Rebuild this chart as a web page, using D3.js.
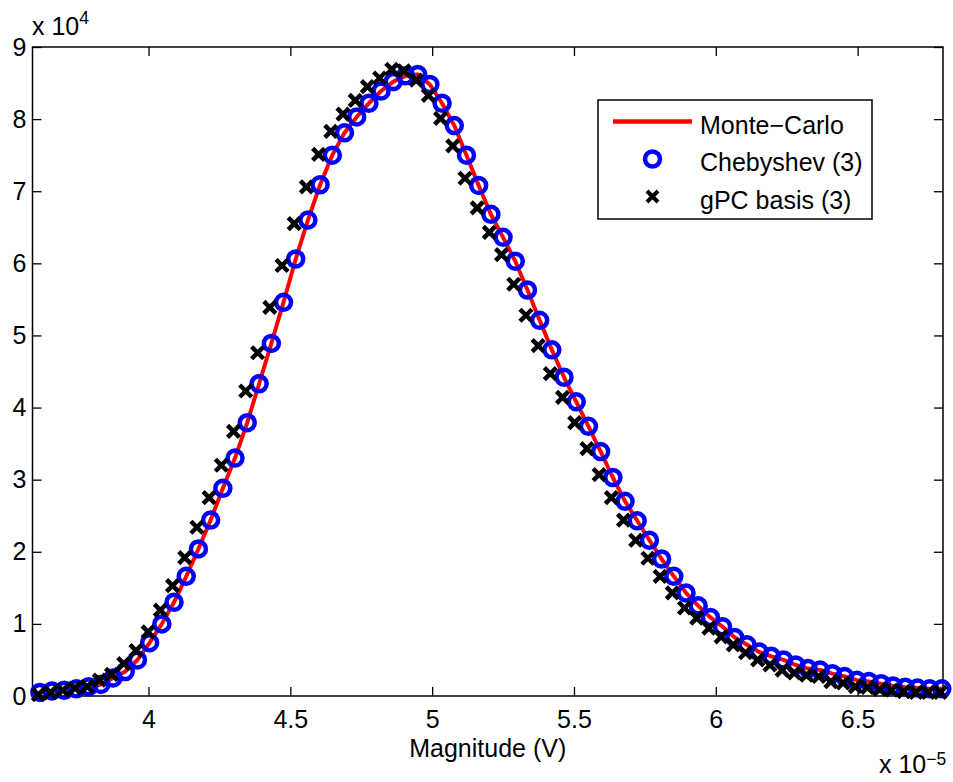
<!DOCTYPE html>
<head>
  <meta charset="utf-8">
  <script src="https://d3js.org/d3.v7.min.js"></script>

  <style>
    body { margin:0; background: white; }

    text {
      font-family: 'Liberation Sans', Arial, Helvetica, sans-serif;
      fill: black;
    }

    .axisLabel, .legendText, .expText {
      font-size: 25px;
    }
  </style>
</head>

<body>
  <script>
    // magnitude of the samples (x 1e-5 V)
    const magnitude = [
      3.617, 3.660, 3.703, 3.746, 3.789, 3.832, 3.875, 3.918, 3.961, 4.004,
      4.047, 4.090, 4.133, 4.176, 4.219, 4.262, 4.305, 4.348, 4.390, 4.433,
      4.476, 4.519, 4.562, 4.605, 4.648, 4.691, 4.734, 4.777, 4.820, 4.863,
      4.906, 4.949, 4.992, 5.035, 5.078, 5.121, 5.164, 5.207, 5.250, 5.293,
      5.336, 5.379, 5.422, 5.465, 5.508, 5.551, 5.594, 5.637, 5.680, 5.723,
      5.766, 5.809, 5.852, 5.895, 5.938, 5.981, 6.024, 6.067, 6.110, 6.153,
      6.196, 6.239, 6.282, 6.325, 6.368, 6.411, 6.454, 6.497, 6.540, 6.583,
      6.625, 6.668, 6.711, 6.754, 6.797
    ];

    // densities (x 1e4)
    const monteCarlo = [
      0.05, 0.07, 0.08, 0.10, 0.13, 0.16, 0.25, 0.34, 0.50, 0.74,
      1.00, 1.30, 1.66, 2.04, 2.44, 2.88, 3.30, 3.79, 4.33, 4.89,
      5.46, 6.06, 6.60, 7.09, 7.50, 7.81, 8.03, 8.22, 8.39, 8.52,
      8.60, 8.62, 8.48, 8.22, 7.91, 7.50, 7.08, 6.68, 6.36, 6.03,
      5.63, 5.21, 4.80, 4.42, 4.08, 3.74, 3.39, 3.03, 2.70, 2.43,
      2.16, 1.90, 1.66, 1.43, 1.25, 1.09, 0.96, 0.81, 0.71, 0.61,
      0.55, 0.50, 0.43, 0.38, 0.36, 0.31, 0.27, 0.22, 0.20, 0.17,
      0.14, 0.12, 0.11, 0.10, 0.10
    ];

    const chebyshev = [
      0.05, 0.07, 0.08, 0.10, 0.13, 0.16, 0.25, 0.34, 0.50, 0.74,
      1.00, 1.30, 1.66, 2.04, 2.44, 2.88, 3.30, 3.79, 4.33, 4.89,
      5.46, 6.06, 6.60, 7.09, 7.50, 7.81, 8.03, 8.22, 8.39, 8.52,
      8.60, 8.62, 8.48, 8.22, 7.91, 7.50, 7.08, 6.68, 6.36, 6.03,
      5.63, 5.21, 4.80, 4.42, 4.08, 3.74, 3.39, 3.03, 2.70, 2.43,
      2.16, 1.90, 1.66, 1.43, 1.25, 1.09, 0.96, 0.81, 0.71, 0.61,
      0.55, 0.50, 0.43, 0.38, 0.36, 0.31, 0.27, 0.22, 0.20, 0.17,
      0.14, 0.12, 0.11, 0.10, 0.10
    ];

    const gpcBasis = [
      0.02, 0.05, 0.08, 0.11, 0.13, 0.22, 0.30, 0.45, 0.63, 0.89,
      1.19, 1.53, 1.92, 2.34, 2.75, 3.20, 3.67, 4.23, 4.76, 5.39,
      5.97, 6.55, 7.06, 7.51, 7.83, 8.07, 8.26, 8.45, 8.57, 8.69,
      8.67, 8.54, 8.33, 8.01, 7.63, 7.18, 6.77, 6.43, 6.12, 5.71,
      5.28, 4.86, 4.47, 4.14, 3.79, 3.43, 3.07, 2.75, 2.44, 2.16,
      1.91, 1.66, 1.43, 1.22, 1.08, 0.94, 0.82, 0.71, 0.60, 0.50,
      0.43, 0.36, 0.32, 0.29, 0.27, 0.20, 0.18, 0.13, 0.12, 0.09,
      0.08, 0.06, 0.05, 0.05, 0.05
    ];

    const xTicks = [4, 4.5, 5, 5.5, 6, 6.5];
    const yTicks = [0, 1, 2, 3, 4, 5, 6, 7, 8, 9];
    const legendLabels = ['Monte\u2212Carlo', 'Chebyshev (3)', 'gPC basis (3)'];

    const width = 953, height = 782;
    const plot = {left: 32.5, right: 943, top: 47, bottom: 696};

    const svg = d3.select('body')
                  .append('svg')
                  .attr('width', width)
                  .attr('height', height);

    // scales
    const x = d3.scaleLinear()
                .domain([3.591, 6.801])
                .range([plot.left, plot.right]);
    const y = d3.scaleLinear()
                .domain([0, 9])
                .range([plot.bottom, plot.top]);

    // axes, ticks point inwards like matlab
    const styleAxis = g => {
      g.select('.domain').remove();
      g.selectAll('.tick line').attr('stroke-width', 1.3);
      g.attr('font-size', 25)
       .attr('font-family', "'Liberation Sans', Arial, Helvetica, sans-serif");
    };

    svg.append('g')
       .attr('transform', `translate(0, ${plot.bottom})`)
       .call(d3.axisBottom(x).tickValues(xTicks).tickSize(-9).tickPadding(14.5).tickFormat(d3.format('')))
       .call(styleAxis);
    svg.append('g')
       .attr('transform', `translate(0, ${plot.top})`)
       .call(d3.axisTop(x).tickValues(xTicks).tickSize(-9).tickFormat(''))
       .call(styleAxis);
    svg.append('g')
       .attr('transform', `translate(${plot.left}, 0)`)
       .call(d3.axisLeft(y).tickValues(yTicks).tickSize(-9).tickPadding(6).tickFormat(d3.format('d')))
       .call(styleAxis);
    svg.append('g')
       .attr('transform', `translate(${plot.right}, 0)`)
       .call(d3.axisRight(y).tickValues(yTicks).tickSize(-9).tickFormat(''))
       .call(styleAxis);

    // box around the axes
    svg.append('rect')
       .attr('x', plot.left)
       .attr('y', plot.top)
       .attr('width', plot.right - plot.left)
       .attr('height', plot.bottom - plot.top)
       .attr('fill', 'none')
       .attr('stroke', 'black')
       .attr('stroke-width', 1.5);

    // exponent labels
    const yExp = svg.append('text')
                    .classed('expText', true)
                    .attr('x', 32)
                    .attr('y', 35)
                    .text('x 10');
    yExp.append('tspan').attr('font-size', 17.5).attr('dy', -11).text('4');

    const xExp = svg.append('text')
                    .classed('expText', true)
                    .attr('x', 879)
                    .attr('y', 773)
                    .text('x 10');
    xExp.append('tspan').attr('font-size', 17.5).attr('dy', -8).text('\u22125');

    svg.append('text')
       .classed('axisLabel', true)
       .attr('x', (plot.left + plot.right) / 2)
       .attr('y', 757)
       .attr('text-anchor', 'middle')
       .text('Magnitude (V)');

    // series
    const mcData = magnitude.map((m, i) => ({x: m, y: monteCarlo[i]}));
    const chebData = magnitude.map((m, i) => ({x: m, y: chebyshev[i]}));
    const gpcData = magnitude.map((m, i) => ({x: m, y: gpcBasis[i]}));

    const line = d3.line().x(d => x(d.x)).y(d => y(d.y));

    svg.append('path')
       .datum(mcData)
       .attr('d', line)
       .attr('fill', 'none')
       .attr('stroke', '#ff0000')
       .attr('stroke-width', 4)
       .attr('stroke-linejoin', 'round');

    svg.append('g')
       .selectAll('circle')
       .data(chebData)
       .enter()
       .append('circle')
       .attr('cx', d => x(d.x))
       .attr('cy', d => y(d.y))
       .attr('r', 7.5)
       .attr('fill', 'none')
       .attr('stroke', '#0000ff')
       .attr('stroke-width', 4.5);

    const crossPath = s => `M${-s},${-s}L${s},${s}M${-s},${s}L${s},${-s}`;

    svg.append('g')
       .selectAll('path')
       .data(gpcData)
       .enter()
       .append('path')
       .attr('d', crossPath(6))
       .attr('transform', d => `translate(${x(d.x) - 1.5}, ${y(d.y)})`)
       .attr('stroke', 'black')
       .attr('stroke-width', 4.5)
       .attr('fill', 'none');

    // legend
    const legend = svg.append('g')
                      .attr('transform', 'translate(598, 100)');

    legend.append('rect')
          .attr('width', 274)
          .attr('height', 119)
          .attr('fill', 'white')
          .attr('stroke', 'black')
          .attr('stroke-width', 1.5);

    const rowY = [21.5, 59, 96.5];

    legend.append('line')
          .attr('x1', 15).attr('x2', 94)
          .attr('y1', rowY[0]).attr('y2', rowY[0])
          .attr('stroke', '#ff0000')
          .attr('stroke-width', 4.5);

    legend.append('circle')
          .attr('cx', 54.5).attr('cy', rowY[1])
          .attr('r', 7.5)
          .attr('fill', 'none')
          .attr('stroke', '#0000ff')
          .attr('stroke-width', 4.5);

    legend.append('path')
          .attr('d', crossPath(5.5))
          .attr('transform', `translate(54.5, ${rowY[2]})`)
          .attr('stroke', 'black')
          .attr('stroke-width', 4);

    legend.selectAll('.legendText')
          .data(legendLabels)
          .enter()
          .append('text')
          .classed('legendText', true)
          .attr('x', 102)
          .attr('y', (d, i) => rowY[i] + 12)
          .text(d => d);
  </script>
</body>
